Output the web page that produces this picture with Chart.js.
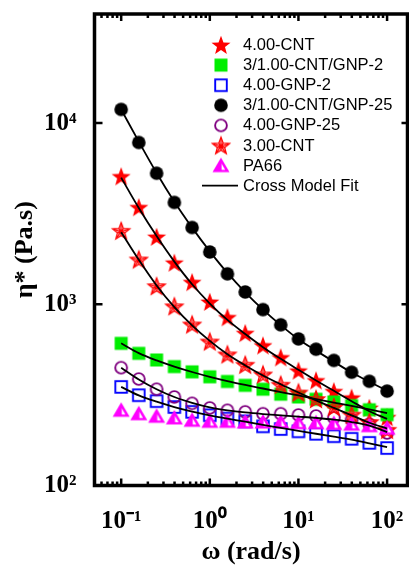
<!DOCTYPE html>
<html><head><meta charset="utf-8">
<script src="https://cdn.jsdelivr.net/npm/chart.js@4.4.1/dist/chart.umd.min.js"></script>
<style>html,body{margin:0;padding:0;background:#fff;overflow:hidden}#wrap{position:relative;width:409px;height:571px}</style>
</head><body><div id="wrap"><canvas id="c" width="409" height="571"></canvas></div>
<script>
// ---- data ----
const omega = [0.1, 0.158, 0.251, 0.398, 0.631, 1, 1.58, 2.51, 3.98, 6.31, 10, 15.8, 25.1, 39.8, 63.1, 100];
const seriesNames = ['4.00-CNT', '3/1.00-CNT/GNP-2', '4.00-GNP-2', '3/1.00-CNT/GNP-25', '4.00-GNP-25', '3.00-CNT', 'PA66'];
const cnt400 = [5080, 3430, 2355, 1695, 1324, 1031, 847, 693, 592, 509, 430, 380, 331, 305, 268, 238];
const hybGnp2 = [609, 536, 493, 453, 424, 398, 375, 357, 340, 319, 308, 299, 289, 276, 262, 246];
const gnp2 = [350, 315, 292, 271, 255, 244, 234, 226, 212, 205, 199, 193, 187, 181, 172, 161];
const hybGnp25 = [11900, 7820, 5290, 3650, 2655, 1945, 1472, 1170, 935, 771, 644, 565, 490, 422, 376, 332];
const gnp25 = [447, 387, 340, 308, 284, 268, 260, 255, 249, 249, 245, 242, 237, 231, 218, 195];
const cnt300 = [2545, 1767, 1259, 975, 774, 623, 529, 464, 410, 360, 326, 300, 271, 246, 224, 203];
const pa66 = [260, 249, 241, 236, 229, 226, 226, 224, 224, 224, 222, 222, 220, 218, 214, 207];
// Cross model fit curves
const fitCnt400 = [5000, 3400, 2380, 1720, 1290, 1010, 820, 685, 580, 500, 435, 380, 333, 292, 257, 233];
const fitHybGnp2 = [609, 538, 490, 453, 423, 398, 377, 359, 343, 328, 314, 300, 287, 275, 263, 251];
const fitGnp2 = [350, 314, 290, 271, 256, 244, 234, 225, 216, 208, 200, 193, 186, 179, 171, 163];
const fitHybGnp25 = [11900, 7900, 5300, 3680, 2650, 1960, 1490, 1165, 935, 768, 642, 555, 482, 420, 374, 333];
const fitGnp25 = [447, 385, 340, 308, 286, 270, 260, 253, 248, 244, 240, 236, 231, 224, 214, 197];
const fitCnt300 = [2500, 1760, 1270, 965, 765, 628, 530, 460, 405, 362, 326, 295, 268, 244, 222, 206];
const fitLabel = 'Cross Model Fit';
const xTickVals = [0.1, 1, 10, 100];
const xTickText = ['10\u207B\u00B9', '10\u2070', '10\u00B9', '10\u00B2'];
const yTickVals = [100, 1000, 10000];
const yTickText = ['10\u00B2', '10\u00B3', '10\u2074'];
const xTitle = '\u03C9 (rad/s)';
const yTitle = '\u03B7* (Pa.s)';

// ---- marker images ----
function mk(size, draw) {
  const c = document.createElement('canvas');
  c.width = size; c.height = size;
  const g = c.getContext('2d');
  draw(g, size / 2, size / 2);
  return c;
}
function starPath(g, cx, cy, R, r) {
  g.beginPath();
  for (let i = 0; i < 10; i++) {
    const a = -Math.PI / 2 + i * Math.PI / 5;
    const rr = i % 2 ? r : R;
    const x = cx + rr * Math.cos(a), y = cy + rr * Math.sin(a);
    i ? g.lineTo(x, y) : g.moveTo(x, y);
  }
  g.closePath();
}
const mStar = mk(24, (g, cx, cy) => { starPath(g, cx, cy + 0.8, 10, 4.2); g.fillStyle = '#ff0000'; g.fill(); });
const mOpenStar = mk(24, (g, cx, cy) => {
  cy += 0.8;
  const R = 9, r = 3.8;
  starPath(g, cx, cy, R, r); g.strokeStyle = '#ff0000'; g.lineWidth = 1.3; g.stroke();
  g.beginPath();
  for (let i = 0; i < 10; i++) {
    const a = -Math.PI / 2 + i * Math.PI / 5; const rr = i % 2 ? r : R * 0.85;
    g.moveTo(cx, cy); g.lineTo(cx + rr * Math.cos(a), cy + rr * Math.sin(a));
  }
  g.stroke();
});
const mGreenSq = mk(20, (g, cx, cy) => { g.fillStyle = '#00ee00'; g.fillRect(cx - 6.5, cy - 6.5, 13, 13); });
const mBlueSq = mk(20, (g, cx, cy) => { g.strokeStyle = '#0000ff'; g.lineWidth = 1.9; g.strokeRect(cx - 5.8, cy - 5.8, 11.6, 11.6); });
const mBlack = mk(20, (g, cx, cy) => { g.fillStyle = '#000'; g.beginPath(); g.arc(cx, cy, 6.8, 0, 2 * Math.PI); g.fill(); });
const mPurple = mk(20, (g, cx, cy) => { g.strokeStyle = '#800080'; g.lineWidth = 1.9; g.beginPath(); g.arc(cx, cy, 5.9, 0, 2 * Math.PI); g.stroke(); });
const mTri = mk(22, (g, cx, cy) => {
  g.fillStyle = '#ff00ff';
  g.beginPath(); g.moveTo(cx, cy - 8); g.lineTo(cx + 8.5, cy + 6.5); g.lineTo(cx - 8.5, cy + 6.5); g.closePath(); g.fill();
  g.fillStyle = '#ffffff';
  g.beginPath(); g.moveTo(cx + 0.6, cy - 2); g.lineTo(cx + 4.2, cy + 4.3); g.lineTo(cx + 0.6, cy + 4.3); g.closePath(); g.fill();
});

const markerImgs = [mStar, mGreenSq, mBlueSq, mBlack, mPurple, mOpenStar, mTri];
const markerVals = [cnt400, hybGnp2, gnp2, hybGnp25, gnp25, cnt300, pa66];
const drawOrder = [7, 6, 5, 4, 3, 2, 1];
const fitVals = [fitCnt400, fitHybGnp2, fitGnp2, fitHybGnp25, fitGnp25, fitCnt300];

const toXY = arr => arr.map((v, i) => ({ x: omega[i], y: v }));
const datasets = [];
fitVals.forEach((arr, k) => datasets.push({
  label: fitLabel, data: toXY(arr), showLine: true, pointRadius: 0, borderColor: '#000', borderWidth: 1.8,
  cubicInterpolationMode: 'monotone', order: 0
}));
markerVals.forEach((arr, k) => datasets.push({
  label: seriesNames[k], data: toXY(arr), showLine: false, pointStyle: markerImgs[k], pointRadius: 7,
  order: drawOrder[k]
}));

const serif = "'Liberation Serif', 'Times New Roman', serif";
const sans = "'Liberation Sans', Arial, sans-serif";

const decor = {
  id: 'decor',
  afterDraw(chart) {
    const g = chart.ctx, a = chart.chartArea, xs = chart.scales.x, ys = chart.scales.y;
    g.save();
    g.strokeStyle = '#000';
    // frame
    g.lineWidth = 3.5;
    g.strokeRect(a.left, a.top, a.right - a.left, a.bottom - a.top);
    // x ticks (inward, top and bottom)
    g.lineWidth = 2.5;
    for (let e = -2; e <= 2; e++) {
      for (let m = 1; m <= 9; m++) {
        const v = m * Math.pow(10, e);
        if (v <= xs.min || v >= xs.max) continue;
        const px = xs.getPixelForValue(v);
        const len = m === 1 ? 7 : 4;
        g.beginPath();
        g.moveTo(px, a.bottom); g.lineTo(px, a.bottom - len);
        g.moveTo(px, a.top); g.lineTo(px, a.top + len);
        g.stroke();
      }
    }
    // y ticks (inward, left and right)
    yTickVals.forEach(v => {
      const py = ys.getPixelForValue(v);
      g.beginPath();
      g.moveTo(a.left, py); g.lineTo(a.left + 8, py);
      g.moveTo(a.right, py); g.lineTo(a.right - 6, py);
      g.stroke();
    });
    // legend
    const lx = 221, tx = 243, ly0 = 45, dy = 20.1;
    g.font = '16.5px ' + sans;
    g.fillStyle = '#000';
    g.textBaseline = 'middle';
    g.textAlign = 'left';
    seriesNames.forEach((n, i) => {
      const y = ly0 + i * dy;
      const im = markerImgs[i];
      g.drawImage(im, lx - im.width / 2, y - im.height / 2);
      g.fillText(n, tx, y + 0.5);
    });
    const yl = ly0 + 7 * dy;
    g.lineWidth = 1.8;
    g.beginPath(); g.moveTo(202, yl); g.lineTo(238, yl); g.stroke();
    g.fillText(fitLabel, tx, yl + 0.5);
    g.restore();
  }
};

new Chart(document.getElementById('c'), {
  type: 'scatter',
  data: { datasets },
  options: {
    responsive: false, animation: false, devicePixelRatio: 1,
    layout: { autoPadding: false, padding: { top: 14, right: 1.5, left: 0, bottom: 0 } },
    plugins: { legend: { display: false }, tooltip: { enabled: false } },
    scales: {
      x: {
        type: 'logarithmic', position: 'bottom', min: 0.05, max: 170,
        grid: { display: false }, border: { display: false },
        afterBuildTicks: s => { s.ticks = xTickVals.map(v => ({ value: v })); },
        afterFit: s => { s.height = 85.5; s.paddingLeft = 0; s.paddingRight = 0; },
        ticks: {
          autoSkip: false, maxRotation: 0, padding: 13, color: '#000',
          font: { family: serif, size: 25, weight: 'bold' },
          callback: v => { const i = xTickVals.indexOf(v); return i >= 0 ? xTickText[i] : ''; }
        },
        title: { display: true, text: xTitle, color: '#000', font: { family: serif, size: 26, weight: 'bold' }, padding: { top: 0, bottom: 3 } }
      },
      y: {
        type: 'logarithmic', position: 'left', min: 100, max: 40000,
        grid: { display: false }, border: { display: false },
        afterBuildTicks: s => { s.ticks = yTickVals.map(v => ({ value: v })); },
        afterFit: s => { s.width = 94.5; s.paddingTop = 0; s.paddingBottom = 0; },
        ticks: {
          autoSkip: false, padding: 10, color: '#000',
          font: { family: serif, size: 25, weight: 'bold' },
          callback: v => { const i = yTickVals.indexOf(v); return i >= 0 ? yTickText[i] : ''; }
        },
        title: { display: true, text: yTitle, color: '#000', font: { family: serif, size: 26, weight: 'bold' }, padding: { top: 10, bottom: 0 } }
      }
    }
  },
  plugins: [decor]
});
</script>
</body></html>
